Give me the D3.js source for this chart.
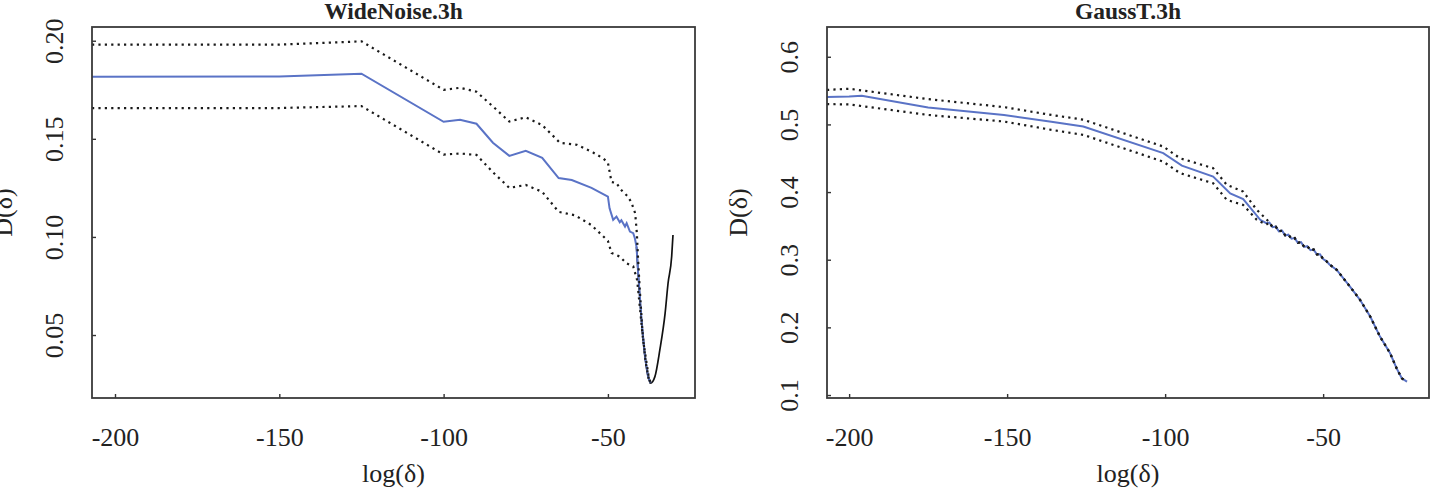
<!DOCTYPE html>
<html lang="en">
<head>
    <meta charset="UTF-8">
    <title>D(delta) curves</title>
    <script src="https://d3js.org/d3.v7.min.js"></script>
    <style>
        body {margin: 0; background: white;}
        text {font-family: "Liberation Serif", "DejaVu Serif", serif;}
    </style>
</head>
<body>
<script>
    const width = 1435;
    const height = 492;

    // WideNoise.3h : [log(delta), D(delta)]
    const wideMean = [[-207,0.1816],[-150,0.1818],[-125,0.1832],[-100,0.1587],[-95,0.1597],[-90,0.1577],
        [-85,0.148],[-80,0.1413],[-75,0.1439],[-70,0.1403],[-65,0.130],[-61,0.129],[-55,0.125],[-50,0.1205],
        [-49.5,0.1146],[-48.4,0.1087],[-47.4,0.1104],[-46.4,0.1075],[-45.9,0.1085],[-44.8,0.1053],[-44.3,0.107],
        [-43.3,0.1027],[-42.3,0.1019],[-41.8,0.0993],[-41.3,0.095],[-40.8,0.0816],[-39.7,0.056],[-38.7,0.0387],
        [-37.8,0.029],[-37.0,0.0255]];
    const wideUpper = [[-207,0.198],[-150,0.198],[-125,0.1997],[-100,0.175],[-95,0.176],[-90,0.174],[-85,0.1665],
        [-80,0.1588],[-75,0.161],[-70,0.157],[-64.6,0.148],[-59.5,0.147],[-54.5,0.143],[-51.4,0.140],[-50,0.1378],
        [-48.9,0.128],[-47.4,0.1275],[-46.4,0.1248],[-45.4,0.123],[-43.9,0.1206],[-42.8,0.1173],[-41.7,0.112],
        [-41.2,0.102],[-40.8,0.088],[-40.3,0.073],[-39.5,0.052],[-38.5,0.036],[-37.5,0.027],[-37.0,0.0255]];
    const wideLower = [[-207,0.1657],[-150,0.1657],[-125,0.1667],[-100,0.142],[-95,0.1425],[-90,0.1418],[-85,0.133],
        [-80,0.125],[-75,0.1265],[-70,0.123],[-65,0.1128],[-60,0.111],[-55,0.106],[-50,0.098],[-48.9,0.0918],
        [-46.4,0.090],[-44.4,0.0866],[-42.3,0.085],[-41.1,0.078],[-40.3,0.0645],[-39.3,0.0475],[-37.7,0.030],
        [-37.0,0.0255]];
    const wideFull = [[-41.3,0.095],[-40.8,0.0816],[-39.7,0.056],[-38.7,0.0387],[-37.8,0.029],[-37.0,0.0255],
        [-35.7,0.0288],[-34.2,0.0424],[-32.6,0.061],[-31.7,0.0764],[-30.6,0.090],[-30.2,0.101]];

    // GaussT.3h
    const gaussMean = [[-207,0.5404],[-200,0.5413],[-196,0.5425],[-175,0.525],[-151,0.514],[-136,0.504],[-125.9,0.497],
        [-100.6,0.4575],[-94.7,0.439],[-84.8,0.423],[-79.4,0.398],[-75.3,0.3895],[-69.9,0.359],[-68,0.354],
        [-67,0.355],[-66,0.348],[-65,0.349],[-64,0.342],[-63,0.343],[-62,0.336],[-61,0.337],[-60,0.331],[-59,0.332],
        [-58,0.325],[-57,0.326],[-56,0.319],[-55,0.320],[-54,0.314],[-53,0.315],[-52,0.308],[-51,0.308],[-50,0.301],
        [-49,0.298],[-48,0.293],[-45.7,0.285],[-41.5,0.2602],[-38.3,0.2405],[-35.1,0.216],[-32,0.1863],
        [-28.8,0.1617],[-26.7,0.139],[-25.1,0.1247],[-23.5,0.1197]];
    const gaussUpper = [[-207,0.551],[-200,0.5527],[-175,0.5374],[-151,0.5256],[-136,0.514],[-125.9,0.507],
        [-100.6,0.4673],[-95.3,0.45],[-84.8,0.4353],[-80.5,0.4107],[-75.3,0.4007],[-71,0.3737],[-67.8,0.359],
        [-67,0.355]];
    const gaussLower = [[-207,0.530],[-200,0.5296],[-175,0.514],[-151,0.5043],[-136,0.492],[-125.9,0.4846],
        [-100.6,0.445],[-95.3,0.428],[-84.8,0.413],[-80.5,0.3885],[-75.3,0.381],[-71,0.359],[-68,0.352],
        [-67,0.355]];

    const xTicks = [-200, -150, -100, -50];
    const wideYTicks = [0.05, 0.10, 0.15, 0.20];
    const gaussYTicks = [0.1, 0.2, 0.3, 0.4, 0.5, 0.6];

    const svg = d3.select("body").append("svg")
            .attr("width", width).attr("height", height);

    const panels = [
        {title: "WideNoise.3h", left: 92, right: 695, xDomain: [-207, -23.5], yDomain: [0.0179, 0.207],
            yTicks: wideYTicks, yFormat: d3.format(".2f"),
            mean: wideMean, upper: wideUpper, lower: wideLower, full: wideFull},
        {title: "GaussT.3h", left: 827, right: 1429, xDomain: [-207, -16.5], yDomain: [0.0956, 0.644],
            yTicks: gaussYTicks, yFormat: d3.format(".1f"),
            mean: gaussMean, upper: gaussUpper.concat(gaussMean.filter(d => d[0] > -67)),
            lower: gaussLower.concat(gaussMean.filter(d => d[0] > -67)), full: null}
    ];
    const plotTop = 27, plotBottom = 398;

    panels.forEach(drawPanel);

    function drawPanel(p) {
        const x = d3.scaleLinear().domain(p.xDomain).range([p.left, p.right]);
        const y = d3.scaleLinear().domain(p.yDomain).range([plotBottom, plotTop]);
        const line = d3.line().x(d => x(d[0])).y(d => y(d[1]));

        const g = svg.append("g");

        // x axis
        const xa = g.append("g")
                .attr("transform", `translate(0,${plotBottom})`)
                .call(d3.axisBottom(x).tickValues(xTicks).tickSizeInner(-4).tickSizeOuter(0)
                        .tickPadding(30).tickFormat(d => String(d)));
        xa.select(".domain").remove();
        xa.selectAll("line").style("stroke", "#333").style("stroke-width", 1.4);
        xa.selectAll("text").style("font-size", "26px").style("fill", "#222");
        xa.attr("font-family", null).attr("font-size", null);

        // y axis, labels rotated
        const ya = g.append("g")
                .attr("transform", `translate(${p.left},0)`)
                .call(d3.axisLeft(y).tickValues(p.yTicks).tickSizeInner(-4).tickSizeOuter(0)
                        .tickFormat(p.yFormat));
        ya.select(".domain").remove();
        ya.attr("font-family", null).attr("font-size", null);
        ya.selectAll("line").style("stroke", "#333").style("stroke-width", 1.4);
        ya.selectAll("text")
                .attr("x", null).attr("dy", null)
                .attr("transform", "translate(-29,0) rotate(-90)")
                .attr("text-anchor", "middle")
                .style("font-size", "26px").style("fill", "#222");

        // curves
        if (p.full) {
            g.append("path").datum(p.full)
                    .attr("d", d3.line().x(d => x(d[0])).y(d => y(d[1])).curve(d3.curveMonotoneX))
                    .style("fill", "none").style("stroke", "#111").style("stroke-width", 1.7);
        }
        g.append("path").datum(p.mean)
                .attr("d", line)
                .style("fill", "none").style("stroke", "#5a73c6").style("stroke-width", 2);
        [p.upper, p.lower].forEach(band => {
            g.append("path").datum(band)
                    .attr("d", line)
                    .style("fill", "none").style("stroke", "#1a1a1a")
                    .style("stroke-width", 2.2).style("stroke-dasharray", "2.2,4.2");
        });

        // frame
        g.append("rect")
                .attr("x", p.left).attr("y", plotTop)
                .attr("width", p.right - p.left).attr("height", plotBottom - plotTop)
                .style("fill", "none").style("stroke", "#3a3a3a").style("stroke-width", 1.8);

        const cx = (p.left + p.right) / 2;
        g.append("text")
                .attr("x", cx).attr("y", 19)
                .attr("text-anchor", "middle")
                .style("font-size", "23.5px").style("font-weight", "bold").style("fill", "#222")
                .text(p.title);
        g.append("text")
                .attr("x", cx).attr("y", 482)
                .attr("text-anchor", "middle")
                .style("font-size", "26px").style("fill", "#222")
                .text("log(δ)");
        g.append("text")
                .attr("transform", `translate(${p.left - 80},${(plotTop + plotBottom) / 2}) rotate(-90)`)
                .attr("text-anchor", "middle")
                .style("font-size", "26px").style("fill", "#222")
                .text("D(δ)");
    }
</script>
</body>
</html>
